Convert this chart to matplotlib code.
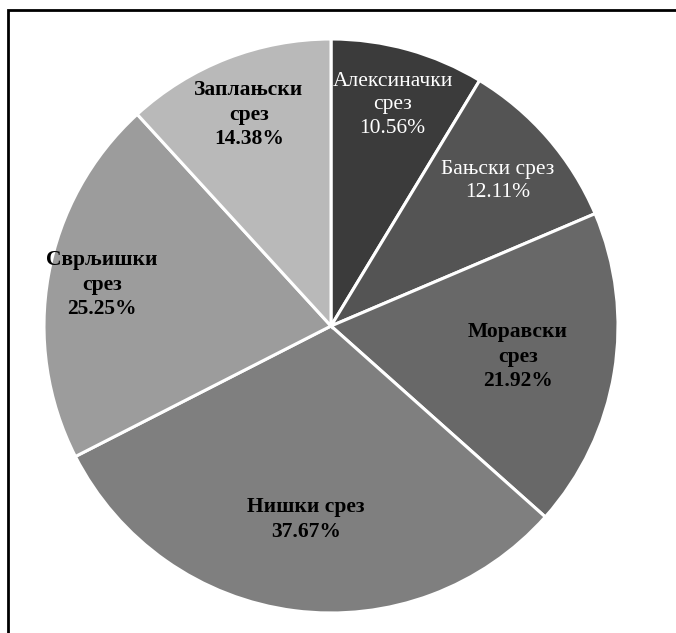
import matplotlib.pyplot as plt
import matplotlib.patches as mpatches
import numpy as np

# shares by district (as printed on the chart)
labels = ['Алексиначки\nсрез', 'Бањски срез', 'Моравски\nсрез',
          'Нишки срез', 'Сврљишки\nсрез', 'Заплањски\nсрез']
values = [10.56, 12.11, 21.92, 37.67, 25.25, 14.38]

colors = ['#3b3b3b', '#545454', '#686868', '#7f7f7f', '#9c9c9c', '#b9b9b9']
text_colors = ['white', 'white', 'black', 'black', 'black', 'black']
weights = ['normal', 'normal', 'bold', 'bold', 'bold', 'bold']
label_r = [0.80, 0.77, 0.66, 0.68, 0.81, 0.79]

W, H = 676, 633
fig = plt.figure(figsize=(W / 100, H / 100), dpi=100)
ax = fig.add_axes([0, 0, 1, 1])

cx, cy, R = 331, H - 326, 287
wedges, _ = ax.pie(values, colors=colors, startangle=90, counterclock=False,
                   center=(cx, cy), radius=R, frame=True,
                   wedgeprops=dict(edgecolor='white', linewidth=2.2))
ax.set_xlim(0, W)
ax.set_ylim(0, H)
ax.axis('off')

for w, lab, v, tc, fw, lr in zip(wedges, labels, values, text_colors, weights, label_r):
    ang = np.deg2rad((w.theta1 + w.theta2) / 2)
    x = cx + lr * R * np.cos(ang)
    y = cy + lr * R * np.sin(ang)
    ax.text(x, y, lab + '\n' + f'{v:.2f}%', ha='center', va='center',
            color=tc, fontweight=fw, fontsize=15.5, family='Liberation Serif',
            linespacing=1.3)

# frame around the figure (top and left edges visible)
fig.add_artist(mpatches.Rectangle((8 / W, -0.1), 2.0, 1.1 - 10 / H,
                                  transform=fig.transFigure, fill=False,
                                  edgecolor='black', linewidth=2.0))

fig.savefig('out.png', dpi=100)
